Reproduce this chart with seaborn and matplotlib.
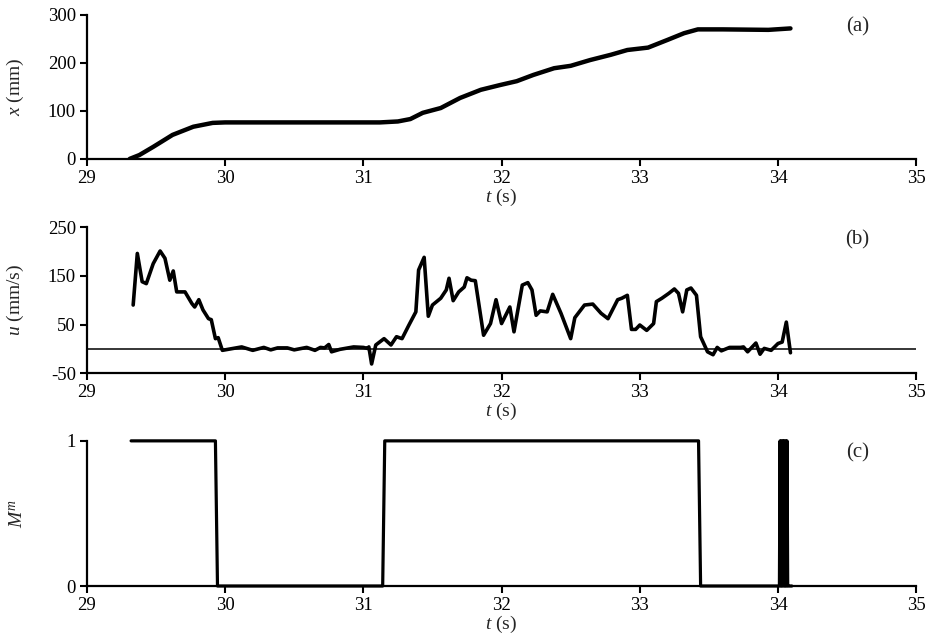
import numpy as np
import pandas as pd
import seaborn as sns
import matplotlib
matplotlib.use('Agg')
import matplotlib.pyplot as plt

# (a) position x(t)
t_pos = [29.31, 29.38, 29.48, 29.62, 29.77, 29.91, 30.0, 30.5, 31.0, 31.12, 31.25,
         31.34, 31.43, 31.56, 31.70, 31.85, 31.99, 32.11, 32.23, 32.38, 32.50,
         32.64, 32.79, 32.91, 33.06, 33.20, 33.32, 33.42, 33.60, 33.93, 34.09]
x_pos = [0, 8, 25, 50, 67, 75, 76, 76, 76, 76, 78,
         83, 96, 106, 127, 144, 154, 162, 175, 189, 194,
         206, 217, 227, 232, 248, 262, 270, 270, 269, 272]

# (b) velocity u(t)
t_vel = [29.335, 29.365, 29.40, 29.43, 29.48, 29.53, 29.565, 29.60, 29.625, 29.65,
         29.71, 29.76, 29.78, 29.81, 29.84, 29.88, 29.90, 29.93, 29.95, 29.98,
         30.06, 30.12, 30.20, 30.28, 30.33, 30.38, 30.45, 30.50, 30.59, 30.65,
         30.69, 30.72, 30.75, 30.77, 30.83, 30.93, 31.00, 31.03, 31.04, 31.06,
         31.09, 31.15, 31.20, 31.24, 31.28, 31.33, 31.38, 31.40, 31.44, 31.47,
         31.50, 31.56, 31.60, 31.62, 31.65, 31.69, 31.73, 31.75, 31.78, 31.81,
         31.87, 31.92, 31.96, 32.00, 32.06, 32.09, 32.15, 32.19, 32.22, 32.25,
         32.28, 32.33, 32.37, 32.43, 32.50, 32.53, 32.60, 32.66, 32.72, 32.77,
         32.84, 32.87, 32.91, 32.94, 32.97, 33.00, 33.05, 33.10, 33.12, 33.16,
         33.21, 33.25, 33.28, 33.31, 33.34, 33.37, 33.41, 33.44, 33.49, 33.53,
         33.56, 33.59, 33.65, 33.73, 33.75, 33.78, 33.84, 33.87, 33.90, 33.95,
         34.00, 34.03, 34.06, 34.09]
u_vel = [90, 196, 138, 134, 175, 201, 186, 141, 160, 117,
         117, 93, 86, 101, 80, 62, 60, 21, 23, -3,
         1, 4, -3, 3, -2, 2, 2, -2, 3, -3,
         3, 2, 9, -6, -1, 4, 3, 1, 4, -31,
         8, 21, 8, 25, 21, 49, 76, 162, 188, 67,
         90, 104, 121, 145, 99, 117, 127, 146, 141, 140,
         28, 52, 101, 52, 86, 35, 131, 136, 121, 69,
         78, 76, 112, 73, 21, 64, 90, 92, 73, 62,
         101, 104, 110, 40, 40, 49, 38, 52, 97, 104,
         114, 123, 114, 76, 121, 125, 110, 25, -6, -12,
         3, -4, 3, 3, 4, -6, 12, -11, 1, -3,
         11, 14, 55, -8]

# (c) mode indicator M^m (fast switching near 34 s)
t_mode = [29.32, 29.93, 29.945, 31.14, 31.155, 33.425, 33.44, 34.01, 34.015,
          34.02, 34.025, 34.03, 34.035, 34.04, 34.045, 34.05, 34.055,
          34.06, 34.065, 34.07, 34.08, 34.10]
m_mode = [1, 1, 0, 0, 1, 1, 0, 0, 1,
          0, 1, 0, 1, 0, 1, 0, 1,
          0, 1, 0, 0, 0]

x_ticks = [29, 30, 31, 32, 33, 34, 35]

sns.set_style('ticks')
plt.rcParams['font.family'] = ['Liberation Serif', 'DejaVu Serif']
plt.rcParams['mathtext.fontset'] = 'custom'
plt.rcParams['mathtext.rm'] = 'Liberation Serif'
plt.rcParams['mathtext.it'] = 'Liberation Serif:italic'
plt.rcParams['axes.unicode_minus'] = False

fig = plt.figure(figsize=(9.34, 6.38), dpi=100)
left, width = 0.093, 0.888
ax_a = fig.add_axes([left, 0.751, width, 0.2255])
ax_b = fig.add_axes([left, 0.415, width, 0.229])
ax_c = fig.add_axes([left, 0.0815, width, 0.2275])

sns.lineplot(x=t_pos, y=x_pos, ax=ax_a, color='black', lw=3.2,
             estimator=None, sort=False)
sns.lineplot(x=t_vel, y=u_vel, ax=ax_b, color='black', lw=2.6,
             estimator=None, sort=False)
ax_b.axhline(0, color='black', lw=1.1, zorder=1)
sns.lineplot(x=t_mode, y=m_mode, ax=ax_c, color='black', lw=2.3,
             estimator=None, sort=False, clip_on=False)

ax_a.set_ylim(0, 300)
ax_a.set_yticks([0, 100, 200, 300])
ax_b.set_ylim(-50, 250)
ax_b.set_yticks([-50, 50, 150, 250])
ax_c.set_ylim(0, 1)
ax_c.set_yticks([0, 1])

ylabels = [r'$x$ (mm)', r'$u$ (mm/s)', r'$M^m$']
panels = ['(a)', '(b)', '(c)']
for ax, yl, pl in zip([ax_a, ax_b, ax_c], ylabels, panels):
    ax.set_xlim(29, 35)
    ax.set_xticks(x_ticks)
    ax.set_xlabel(r'$t$ (s)', fontsize=14, labelpad=0)
    ax.set_ylabel(yl, fontsize=14)
    ax.yaxis.set_label_coords(-0.073, 0.5)
    ax.tick_params(direction='out', length=5, width=1.5, labelsize=13.5,
                   colors='black', pad=3)
    for s in ['left', 'bottom']:
        ax.spines[s].set_linewidth(1.6)
        ax.spines[s].set_color('black')
    sns.despine(ax=ax)
    ax.text(0.929, 0.915, pl, transform=ax.transAxes, fontsize=15,
            ha='center', va='center')

fig.savefig('out.png', dpi=100)
